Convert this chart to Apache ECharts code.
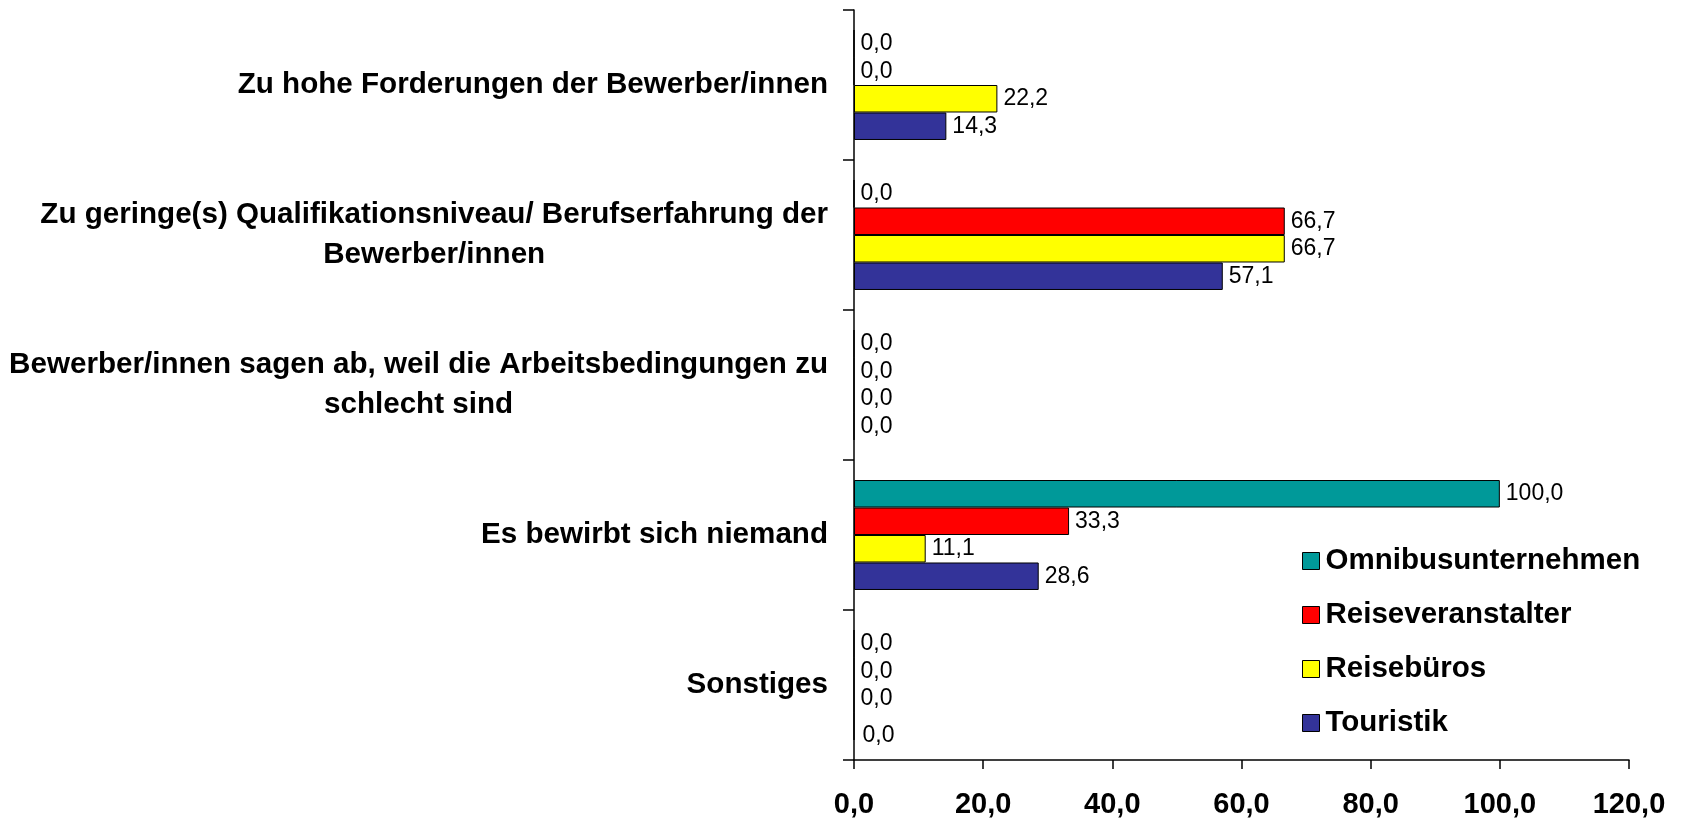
<!DOCTYPE html>
<html>
<head>
<meta charset="utf-8">
<title>Gründe für unbesetzte Stellen</title>
<script src="https://cdn.jsdelivr.net/npm/echarts@6/dist/echarts.min.js"></script>
<style>
  html, body { margin: 0; padding: 0; background: #ffffff; }
  #chart { width: 1682px; height: 818px; }
</style>
</head>
<body>
<div id="chart"></div>
<script>
// Categories, listed top to bottom
const categories = [
  'Zu hohe Forderungen der Bewerber/innen',
  'Zu geringe(s) Qualifikationsniveau/ Berufserfahrung der\nBewerber/innen',
  'Bewerber/innen sagen ab, weil die Arbeitsbedingungen zu\nschlecht sind',
  'Es bewirbt sich niemand',
  'Sonstiges'
];

// Series names (legend order)
const seriesNames = ['Omnibusunternehmen', 'Reiseveranstalter', 'Reisebüros', 'Touristik'];

// Values in percent, one array per series, in category order
const omnibusValues = [0.0, 0.0, 0.0, 100.0, 0.0];
const veranstalterValues = [0.0, 66.7, 0.0, 33.3, 0.0];
const bueroValues = [22.2, 66.7, 0.0, 11.1, 0.0];
const touristikValues = [14.3, 57.1, 0.0, 28.6, 0.0];

// Value axis ticks
const xTicks = [0, 20, 40, 60, 80, 100, 120];

const seriesValues = [omnibusValues, veranstalterValues, bueroValues, touristikValues];
const seriesColors = ['#009999', '#ff0000', '#ffff00', '#333399'];

const FONT = '"Liberation Sans", Arial, Helvetica, sans-serif';
const fmt = v => Number(v).toFixed(1).replace('.', ',');

const chart = echarts.init(document.getElementById('chart'), null, { renderer: 'canvas' });

const series = seriesNames.map((name, si) => ({
  name: name,
  type: 'bar',
  barGap: '0%',
  barCategoryGap: '26.7%',
  itemStyle: { color: seriesColors[si], borderColor: '#000000', borderWidth: 1 },
  label: {
    show: true,
    position: 'right',
    distance: 6,
    color: '#000000',
    fontFamily: FONT,
    fontSize: 23,
    formatter: p => fmt(p.value)
  },
  // the last "Sonstiges" label sits a little lower than its bar
  data: seriesValues[si].map((v, ci) =>
    (si === 3 && ci === 4) ? { value: v, label: { offset: [2, 9] } } : v
  ),
  emphasis: { disabled: true }
}));

const option = {
  backgroundColor: '#ffffff',
  animation: false,
  grid: { left: 854, right: 53, top: 10, bottom: 58, containLabel: false, outerBoundsMode: 'none' },
  legend: {
    orient: 'vertical',
    left: 1297,
    top: 541,
    itemWidth: 17,
    itemHeight: 17,
    itemGap: 24,
    icon: 'rect',
    data: seriesNames,
    itemStyle: { borderColor: '#000000', borderWidth: 1 },
    textStyle: { fontFamily: FONT, fontSize: 29.5, fontWeight: 'bold', color: '#000000', padding: [0, 0, 0, 1] }
  },
  xAxis: {
    type: 'value',
    min: xTicks[0],
    max: xTicks[xTicks.length - 1],
    interval: xTicks[1] - xTicks[0],
    axisLine: { show: true, lineStyle: { color: '#000000', width: 1.5 } },
    axisTick: { show: true, length: 9, lineStyle: { color: '#000000', width: 1.5 } },
    splitLine: { show: false },
    axisLabel: {
      margin: 30,
      color: '#000000',
      fontFamily: FONT,
      fontSize: 29,
      fontWeight: 'bold',
      formatter: v => fmt(v)
    }
  },
  yAxis: {
    type: 'category',
    inverse: true,
    data: categories,
    axisLine: { show: true, lineStyle: { color: '#000000', width: 1.5 } },
    axisTick: { show: true, length: 11, lineStyle: { color: '#000000', width: 1.5 } },
    axisLabel: {
      margin: 26,
      align: 'right',
      formatter: v => v.split('\n').map(l => '{c|' + l + '}').join('\n'),
      rich: {
        c: {
          align: 'center',
          color: '#000000',
          fontFamily: FONT,
          fontSize: 29.6,
          fontWeight: 'bold',
          lineHeight: 40
        }
      }
    }
  },
  series: series
};

chart.setOption(option);
</script>
</body>
</html>
